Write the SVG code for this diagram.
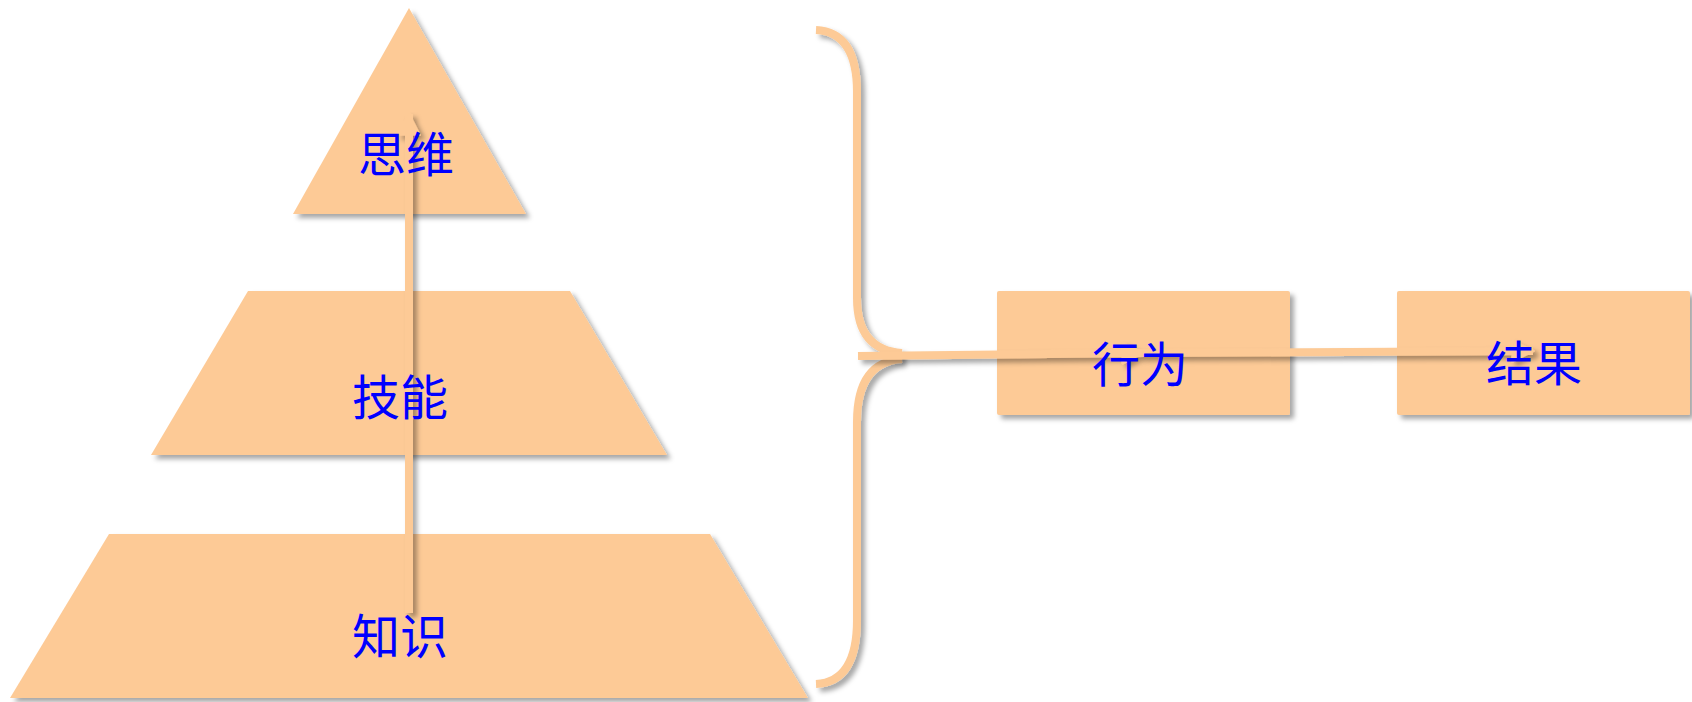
<svg xmlns="http://www.w3.org/2000/svg" width="1692" height="702" viewBox="0 0 1692 702">
  <defs>
    <filter id="sh" x="-10%" y="-10%" width="130%" height="130%">
      <feDropShadow dx="4" dy="4" stdDeviation="2.5" flood-color="#000" flood-opacity="0.35"/>
    </filter>
    <filter id="shl" filterUnits="userSpaceOnUse" x="0" y="0" width="1692" height="702">
      <feDropShadow dx="4" dy="4" stdDeviation="2.5" flood-color="#000" flood-opacity="0.35"/>
    </filter>
    <marker id="arr" viewBox="0 0 10 10" refX="9" refY="5" markerWidth="3" markerHeight="3" orient="auto">
      <path d="M0,0 L10,5 L0,10 z" fill="#FDCA96"/>
    </marker>
    <style>
      .shape { fill: #FDCA96; filter: url(#sh); }
      .lbl { font-family: "Noto Sans CJK SC", "Liberation Sans", sans-serif; font-size: 48px; fill: #0000FF; text-anchor: middle; }
      .con { fill: none; stroke: #FDCA96; stroke-width: 8; filter: url(#shl); }
    </style>
  </defs>
  <rect width="1692" height="702" fill="#FFFFFF"/>

  <g id="node-siwei">
    <polygon class="shape" points="409,8 526,214 293,214"/>
  </g>
  <g id="node-jineng">
    <polygon class="shape" points="248,291 570,291 667,455 151,455"/>
  </g>
  <g id="node-zhishi">
    <polygon class="shape" points="109,534 710,534 808,698 10,698"/>
  </g>
  <g id="node-xingwei">
    <rect class="shape" x="997" y="291" width="293" height="124" rx="2"/>
  </g>
  <g id="node-jieguo">
    <rect class="shape" x="1397" y="291" width="293" height="124" rx="2"/>
  </g>

  <g id="connectors">
    <line class="con" x1="409" y1="613" x2="409" y2="114" marker-end="url(#arr)"/>
    <path class="con" d="M816,30 Q857,32 857,92 L857,298 Q857,350 902,353"/>
    <path class="con" d="M902,359 Q857,362 857,422 L857,620 Q857,682 816,684"/>
    <line class="con" x1="858" y1="356" x2="1143" y2="353" marker-end="url(#arr)"/>
    <line class="con" x1="1143" y1="353" x2="1533" y2="351" marker-end="url(#arr)"/>
  </g>

  <g id="labels">
    <text id="label-siwei" class="lbl" x="406" y="172">思维</text>
    <text id="label-jineng" class="lbl" x="400" y="415">技能</text>
    <text id="label-zhishi" class="lbl" x="400" y="654">知识</text>
    <text id="label-xingwei" class="lbl" x="1140" y="382">行为</text>
    <text id="label-jieguo" class="lbl" x="1534" y="381">结果</text>
  </g>
</svg>
